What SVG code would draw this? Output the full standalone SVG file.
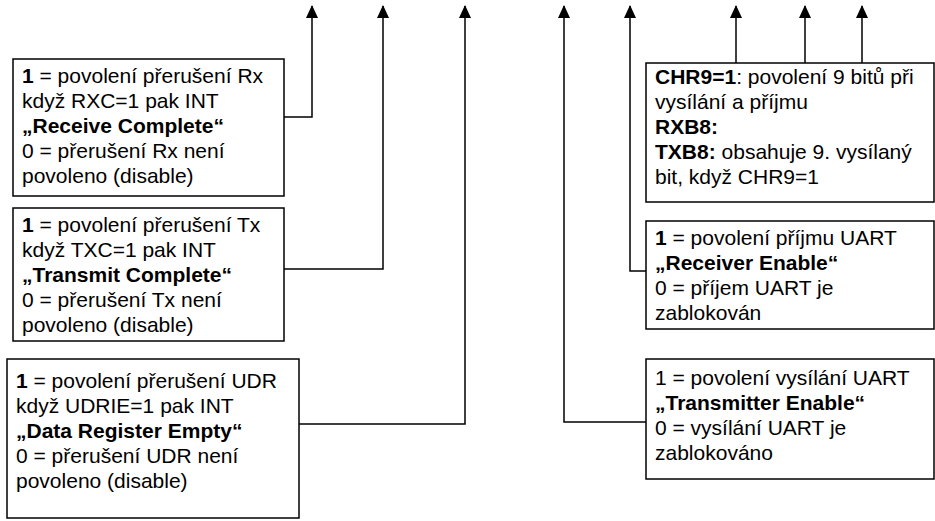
<svg xmlns="http://www.w3.org/2000/svg" width="935" height="521" viewBox="0 0 935 521">
<style>
.box{fill:#fff;stroke:#000;stroke-width:1.5}
.t{font-family:"Liberation Sans",Arial,sans-serif;font-size:21px;fill:#000}
.b{font-weight:bold}
.c{fill:none;stroke:#000;stroke-width:1.5}
</style>
<defs>
<marker id="ah" markerUnits="userSpaceOnUse" markerWidth="14" markerHeight="13" refX="12" refY="6" orient="auto" viewBox="0 0 14 12">
<path d="M0,0 L13,6 L0,12 Z" fill="#000"/>
</marker>
</defs>
<g id="connectors">
<polyline class="c" points="284,117 312,117 312,6" marker-end="url(#ah)"/>
<polyline class="c" points="284,269 383,269 383,6" marker-end="url(#ah)"/>
<polyline class="c" points="299,424 465,424 465,6" marker-end="url(#ah)"/>
<polyline class="c" points="646,422 564,422 564,6" marker-end="url(#ah)"/>
<polyline class="c" points="646,271 630,271 630,6" marker-end="url(#ah)"/>
<polyline class="c" points="736,63 736,6" marker-end="url(#ah)"/>
<polyline class="c" points="805,63 805,6" marker-end="url(#ah)"/>
<polyline class="c" points="862,63 862,6" marker-end="url(#ah)"/>
</g>
<g id="rxcie">
<rect class="box" x="13" y="59" width="271" height="137"/>
<text class="t" x="22" y="83"><tspan class="b">1</tspan> = povolení přerušení Rx</text>
<text class="t" x="22" y="108">když RXC=1 pak INT</text>
<text class="t b" x="22" y="133">„Receive Complete“</text>
<text class="t" x="22" y="158">0 = přerušení Rx není</text>
<text class="t" x="22" y="183">povoleno (disable)</text>
</g>
<g id="txcie">
<rect class="box" x="13" y="208" width="271" height="133"/>
<text class="t" x="22" y="232"><tspan class="b">1</tspan> = povolení přerušení Tx</text>
<text class="t" x="22" y="257">když TXC=1 pak INT</text>
<text class="t b" x="22" y="282">„Transmit Complete“</text>
<text class="t" x="22" y="307">0 = přerušení Tx není</text>
<text class="t" x="22" y="332">povoleno (disable)</text>
</g>
<g id="udrie">
<rect class="box" x="7" y="359" width="292" height="159"/>
<text class="t" x="16" y="388"><tspan class="b">1</tspan> = povolení přerušení UDR</text>
<text class="t" x="16" y="413">když UDRIE=1 pak INT</text>
<text class="t b" x="16" y="438">„Data Register Empty“</text>
<text class="t" x="16" y="463">0 = přerušení UDR není</text>
<text class="t" x="16" y="488">povoleno (disable)</text>
</g>
<g id="chr9">
<rect class="box" x="646" y="63" width="288" height="139"/>
<text class="t" x="655" y="84"><tspan class="b">CHR9=1</tspan>: povolení 9 bitů při</text>
<text class="t" x="655" y="109">vysílání a příjmu</text>
<text class="t b" x="655" y="134">RXB8:</text>
<text class="t" x="655" y="159"><tspan class="b">TXB8:</tspan> obsahuje 9. vysílaný</text>
<text class="t" x="655" y="184">bit, když CHR9=1</text>
</g>
<g id="rxen">
<rect class="box" x="646" y="221" width="288" height="108"/>
<text class="t" x="655" y="245"><tspan class="b">1</tspan> = povolení příjmu UART</text>
<text class="t b" x="655" y="270">„Receiver Enable“</text>
<text class="t" x="655" y="295">0 = příjem UART je</text>
<text class="t" x="655" y="320">zablokován</text>
</g>
<g id="txen">
<rect class="box" x="646" y="359" width="288" height="120"/>
<text class="t" x="655" y="385">1 = povolení vysílání UART</text>
<text class="t b" x="655" y="410">„Transmitter Enable“</text>
<text class="t" x="655" y="435">0 = vysílání UART je</text>
<text class="t" x="655" y="460">zablokováno</text>
</g>
</svg>
